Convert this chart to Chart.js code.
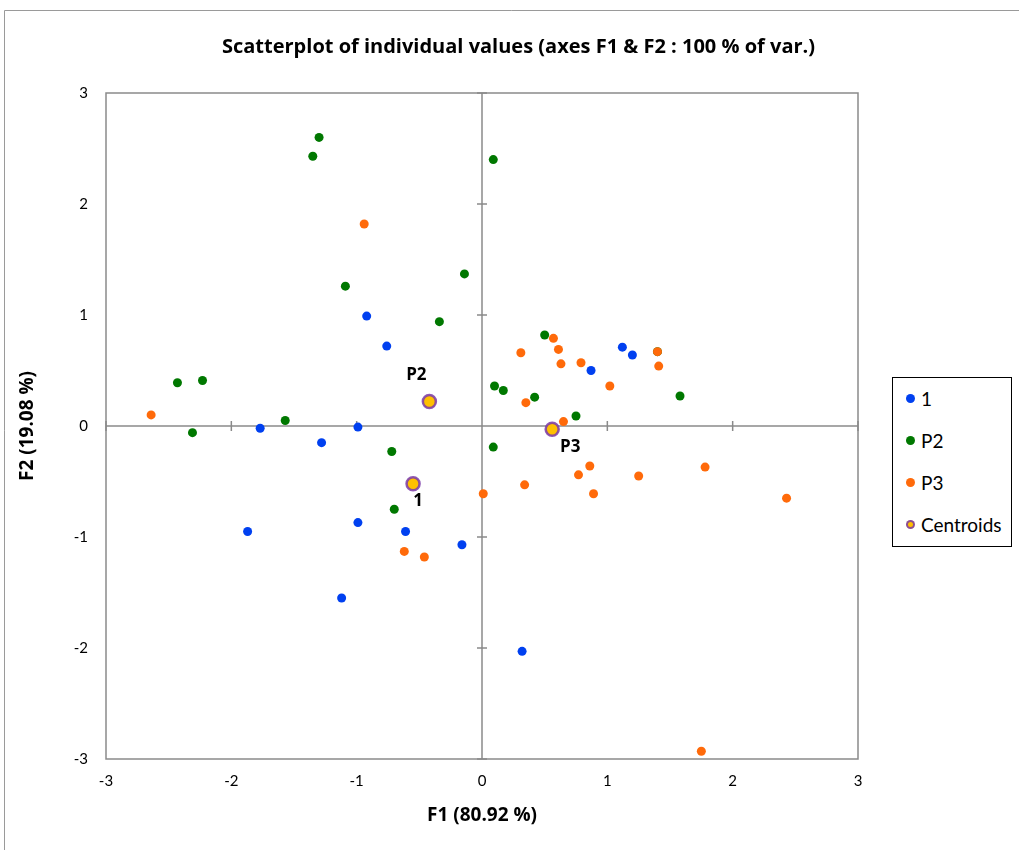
<!DOCTYPE html>
<html>
<head>
<meta charset="utf-8">
<script src="https://cdn.jsdelivr.net/npm/chart.js@4.4.1/dist/chart.umd.min.js"></script>
<style>
  body { margin: 0; background: #fff; }
  #wrap { position: relative; width: 1019px; height: 850px; }
  #legend { position: absolute; left: 892px; top: 377px; width: 120px; height: 170px; border: 1px solid #000;
            box-sizing: border-box; font-family: Lato, 'Liberation Sans', sans-serif; font-size: 19px; background: #fff; }
  .item { position: absolute; left: 0; height: 22px; line-height: 22px; width: 100%; }
  .dot { position: absolute; left: 13px; top: 6px; width: 9px; height: 9px; border-radius: 50%; }
  .t { position: absolute; left: 28px; top: 0; }
</style>
</head>
<body>
<div id="wrap">
  <canvas id="chart"></canvas>
  <div id="legend"></div>
</div>
<script>
// observations, group "1"
const g1X = [-0.92, -0.76, -1.77, -0.99, -1.28, -0.99, -1.87, -0.61, -0.16, -1.12, 1.12, 1.20, 0.87, 0.32];
const g1Y = [0.99, 0.72, -0.02, -0.01, -0.15, -0.87, -0.95, -0.95, -1.07, -1.55, 0.71, 0.64, 0.50, -2.03];

// group "P2"
const p2X = [-1.30, -1.35, 0.09, -0.14, -1.09, -0.34, -2.43, -2.23, 0.10, -1.57, -2.31, -0.72, 0.09, -0.70, 0.50, 1.58, 0.17, 0.42, 0.75, 1.40];
const p2Y = [2.60, 2.43, 2.40, 1.37, 1.26, 0.94, 0.39, 0.41, 0.36, 0.05, -0.06, -0.23, -0.19, -0.75, 0.82, 0.27, 0.32, 0.26, 0.09, 0.67];

// group "P3"
const p3X = [-0.94, -2.64, 0.01, -0.62, -0.46, 0.57, 0.31, 0.61, 0.63, 0.79, 1.40, 1.41, 1.02, 0.35, 0.65, 0.86, 0.77, 1.25, 1.78, 0.34, 0.89, 2.43, 1.75];
const p3Y = [1.82, 0.10, -0.61, -1.13, -1.18, 0.79, 0.66, 0.69, 0.56, 0.57, 0.67, 0.54, 0.36, 0.21, 0.04, -0.36, -0.44, -0.45, -0.37, -0.53, -0.61, -0.65, -2.93];

// class centroids
const centroidLabels = ['1', 'P2', 'P3'];
const centroidX = [-0.55, -0.42, 0.56];
const centroidY = [-0.52, 0.22, -0.03];

const seriesNames = ['1', 'P2', 'P3', 'Centroids'];
const axisTicks = [-3, -2, -1, 0, 1, 2, 3];

const BLUE = '#0040f0';
const GREEN = '#007800';
const ORANGE = '#ff6a0a';
const GOLD = '#ffc000';
const PURPLE = 'rgba(122,58,168,0.85)';
const AXIS = '#8a8a8a';
const FONT = "Lato, 'Liberation Sans', sans-serif";
const BOLD_FONT = "'Open Sans', 'Liberation Sans', sans-serif";

function toPoints(xs, ys) {
  return xs.map((x, i) => ({ x: x, y: ys[i] }));
}

// frame, centred axes with cross ticks, centroid labels
const crossAxes = {
  id: 'crossAxes',
  beforeDraw(chart) {
    const ctx = chart.ctx;
    ctx.save();
    ctx.strokeStyle = '#9a9a9a';
    ctx.lineWidth = 1;
    ctx.beginPath();
    ctx.moveTo(4.5, 850);
    ctx.lineTo(4.5, 10.5);
    ctx.lineTo(1019, 10.5);
    ctx.stroke();
    ctx.restore();
  },
  beforeDatasetsDraw(chart) {
    const { ctx, chartArea: a, scales: { x, y } } = chart;
    const x0 = x.getPixelForValue(0);
    const y0 = y.getPixelForValue(0);
    ctx.save();
    ctx.strokeStyle = AXIS;
    ctx.lineWidth = 1.5;
    ctx.strokeRect(a.left, a.top, a.right - a.left, a.bottom - a.top);
    ctx.beginPath();
    ctx.moveTo(a.left, y0); ctx.lineTo(a.right, y0);
    ctx.moveTo(x0, a.top); ctx.lineTo(x0, a.bottom);
    x.ticks.forEach(t => {
      const px = x.getPixelForValue(t.value);
      ctx.moveTo(px, y0 - 5); ctx.lineTo(px, y0 + 5);
    });
    y.ticks.forEach(t => {
      const py = y.getPixelForValue(t.value);
      ctx.moveTo(x0 - 5, py); ctx.lineTo(x0 + 5, py);
    });
    ctx.stroke();
    ctx.restore();
  },
  afterDatasetsDraw(chart) {
    const { ctx, scales: { x, y } } = chart;
    const offsets = [[5, 17], [-13, -26], [18, 18]];
    ctx.save();
    ctx.fillStyle = '#000';
    ctx.font = 'bold 17px ' + BOLD_FONT;
    ctx.textAlign = 'center';
    ctx.textBaseline = 'middle';
    centroidLabels.forEach((lab, i) => {
      const px = x.getPixelForValue(centroidX[i]);
      const py = y.getPixelForValue(centroidY[i]);
      ctx.fillText(lab, px + offsets[i][0], py + offsets[i][1]);
    });
    ctx.restore();
  }
};

const ctx = document.getElementById('chart').getContext('2d');
window.scatterChart = new Chart(ctx, {
  type: 'scatter',
  data: {
    datasets: [
      { label: seriesNames[0], data: toPoints(g1X, g1Y), backgroundColor: BLUE, borderColor: BLUE, pointRadius: 4.5, borderWidth: 0, order: 3 },
      { label: seriesNames[1], data: toPoints(p2X, p2Y), backgroundColor: GREEN, borderColor: GREEN, pointRadius: 4.5, borderWidth: 0, order: 2 },
      { label: seriesNames[2], data: toPoints(p3X, p3Y), backgroundColor: ORANGE, borderColor: ORANGE, pointRadius: 4.5, borderWidth: 0, order: 1 },
      { label: seriesNames[3], data: toPoints(centroidX, centroidY), backgroundColor: GOLD, borderColor: PURPLE, pointRadius: 6.5, borderWidth: 2.5, order: 0 }
    ]
  },
  options: {
    responsive: true,
    maintainAspectRatio: false,
    animation: false,
    events: [],
    layout: { padding: { left: 18, right: 0, top: 0, bottom: 0 } },
    plugins: {
      legend: { display: false },
      tooltip: { enabled: false },
      title: {
        display: true,
        text: 'Scatterplot of individual values (axes F1 & F2 : 100 % of var.)',
        color: '#000',
        font: { family: BOLD_FONT, size: 20, weight: 'bold', lineHeight: 1.2 },
        padding: { top: 35, bottom: 34 },
        align: 'center'
      }
    },
    scales: {
      x: {
        type: 'linear',
        min: -3, max: 3,
        afterBuildTicks: s => { s.ticks = axisTicks.map(v => ({ value: v })); },
        afterFit: s => { s.height = 91; },
        grid: { display: false, drawTicks: false },
        border: { display: false },
        ticks: { color: '#000', padding: 13, font: { family: FONT, size: 15 } },
        title: {
          display: true, text: 'F1 (80.92 %)', color: '#000',
          font: { family: BOLD_FONT, size: 19, weight: 'bold', lineHeight: 1.2 },
          padding: { top: 0, bottom: 23 }
        }
      },
      y: {
        type: 'linear',
        min: -3, max: 3,
        afterBuildTicks: s => { s.ticks = axisTicks.map(v => ({ value: v })); },
        afterFit: s => { s.width = 88; },
        grid: { display: false, drawTicks: false },
        border: { display: false },
        ticks: { color: '#000', padding: 18, font: { family: FONT, size: 15 } },
        title: {
          display: true, text: 'F2 (19.08 %)', color: '#000',
          font: { family: BOLD_FONT, size: 19, weight: 'bold', lineHeight: 1 },
          padding: { top: 0, bottom: 0 }
        }
      },
      // empty right-hand box that reserves room for the legend
      side: {
        type: 'linear',
        position: 'right',
        display: true,
        afterFit: s => { s.width = 161; },
        ticks: { display: false },
        grid: { display: false, drawTicks: false },
        border: { display: false }
      }
    }
  },
  plugins: [crossAxes]
});

// legend box
const legendColors = [
  { bg: BLUE, ring: null },
  { bg: GREEN, ring: null },
  { bg: ORANGE, ring: null },
  { bg: GOLD, ring: PURPLE }
];
const legendEl = document.getElementById('legend');
seriesNames.forEach((name, i) => {
  const item = document.createElement('div');
  item.className = 'item';
  item.style.top = (10 + i * 42) + 'px';
  const dot = document.createElement('span');
  dot.className = 'dot';
  dot.style.background = legendColors[i].bg;
  if (legendColors[i].ring) {
    dot.style.boxSizing = 'border-box';
    dot.style.border = '2px solid ' + legendColors[i].ring;
  }
  const t = document.createElement('span');
  t.className = 't';
  t.textContent = name;
  item.appendChild(dot);
  item.appendChild(t);
  legendEl.appendChild(item);
});
</script>
</body>
</html>
